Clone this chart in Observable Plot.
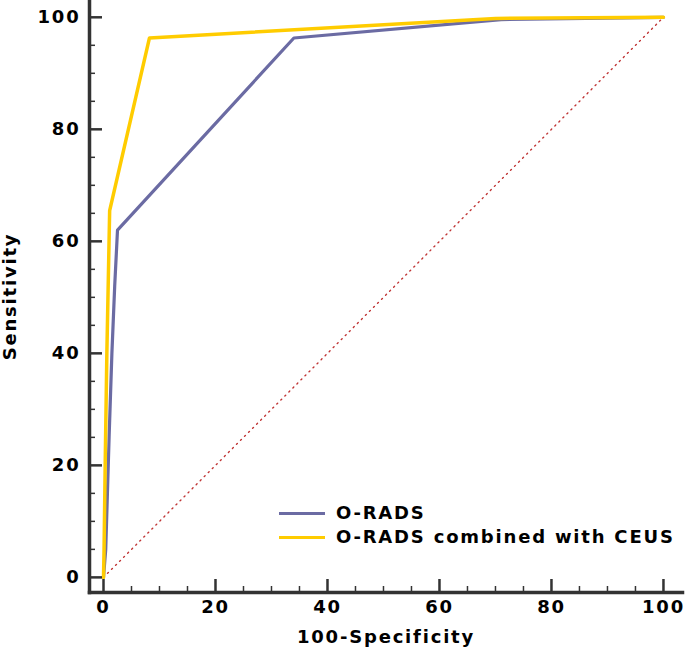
<!DOCTYPE html>
<html><head><meta charset="utf-8">
<script src="https://cdn.jsdelivr.net/npm/d3@7"></script>
<script src="https://cdn.jsdelivr.net/npm/@observablehq/plot@0.6"></script>
<style>
body{margin:0;background:#fff;}
#wrap{position:relative;width:685px;height:648px;font-family:"DejaVu Sans",sans-serif;}
#chart svg text{letter-spacing:1.8px;}
#legend{position:absolute;left:279px;top:501px;font-weight:bold;font-size:18px;letter-spacing:1.8px;color:#000;line-height:24px;}
#legend .row{display:flex;align-items:center;}
#legend .sw{width:46px;height:3px;margin-right:11px;}
</style>
</head><body><div id="wrap"><div id="chart"></div><div id="legend"></div></div>
<script>
// Data
const oradsFpr = [0, 0.4, 0.7, 1.0, 1.5, 2.0, 2.5, 34, 71, 100];
const oradsTpr = [0, 5, 15, 25, 40, 52, 62, 96.3, 99.6, 100];
const ceusFpr = [0, 0.1, 0.3, 0.6, 1.1, 8.2, 70, 100];
const ceusTpr = [0, 5, 20, 40, 65.5, 96.3, 99.8, 100];
const seriesNames = ["O-RADS", "O-RADS combined with CEUS"];
const seriesColors = ["#6b6ba3", "#ffcc00"];
const majorTicks = [0, 20, 40, 60, 80, 100];
const minorTicks = [5,10,15,25,30,35,45,50,55,65,70,75,85,90,95];
const refLine = [[0, 0], [100, 100]];

const orads = oradsFpr.map((x, i) => ({x, y: oradsTpr[i]}));
const ceus = ceusFpr.map((x, i) => ({x, y: ceusTpr[i]}));

const axisColor = "#333";
const fontFam = "DejaVu Sans, sans-serif";
const W = 685, H = 648, mL = 89, mR = 3, mT = 0, mB = 56;
const frameW = W - mL - mR, frameH = H - mT - mB;

const chart = Plot.plot({
  width: W,
  height: H,
  marginLeft: mL,
  marginRight: mR,
  marginTop: mT,
  marginBottom: mB,
  style: {fontFamily: fontFam, fontSize: "18px", fontWeight: "bold", color: "#000", background: "#fff"},
  x: {domain: [-2.5, 103.4]},
  y: {domain: [-2.7, 103]},
  marks: [
    Plot.line(refLine, {x: d => d[0], y: d => d[1], stroke: "#c03535", strokeWidth: 1.4, strokeDasharray: "1.2 4.5"}),
    Plot.line(orads, {x: "x", y: "y", stroke: seriesColors[0], strokeWidth: 3.2}),
    Plot.line(ceus, {x: "x", y: "y", stroke: seriesColors[1], strokeWidth: 3.5}),
    // inward tick marks
    Plot.tickX(majorTicks, {x: d => d, insetTop: frameH - 13, stroke: axisColor, strokeWidth: 2.5}),
    Plot.tickX(minorTicks, {x: d => d, insetTop: frameH - 6, stroke: axisColor, strokeWidth: 1.5}),
    Plot.tickY(majorTicks, {y: d => d, insetRight: frameW - 13, stroke: axisColor, strokeWidth: 2.5}),
    Plot.tickY(minorTicks, {y: d => d, insetRight: frameW - 6, stroke: axisColor, strokeWidth: 1.5}),
    Plot.axisX({ticks: majorTicks, tickSize: 0, tickPadding: 8, fontSize: 18, fontWeight: "bold", fill: "#000", label: "100-Specificity", labelAnchor: "center", labelArrow: "none", labelOffset: 50}),
    Plot.axisY({ticks: majorTicks, tickSize: 0, tickPadding: 9, fontSize: 18, fontWeight: "bold", fill: "#000", label: "Sensitivity", labelAnchor: "center", labelArrow: "none", labelOffset: 86}),
    Plot.frame({anchor: "left", stroke: axisColor, strokeWidth: 3.5}),
    Plot.frame({anchor: "bottom", stroke: axisColor, strokeWidth: 3.5})
  ]
});
document.getElementById("chart").appendChild(chart);

const legend = d3.select("#legend");
seriesNames.forEach((name, i) => {
  const row = legend.append("div").attr("class", "row");
  row.append("div").attr("class", "sw").style("background", seriesColors[i]);
  row.append("span").text(name);
});
</script>
</body></html>
